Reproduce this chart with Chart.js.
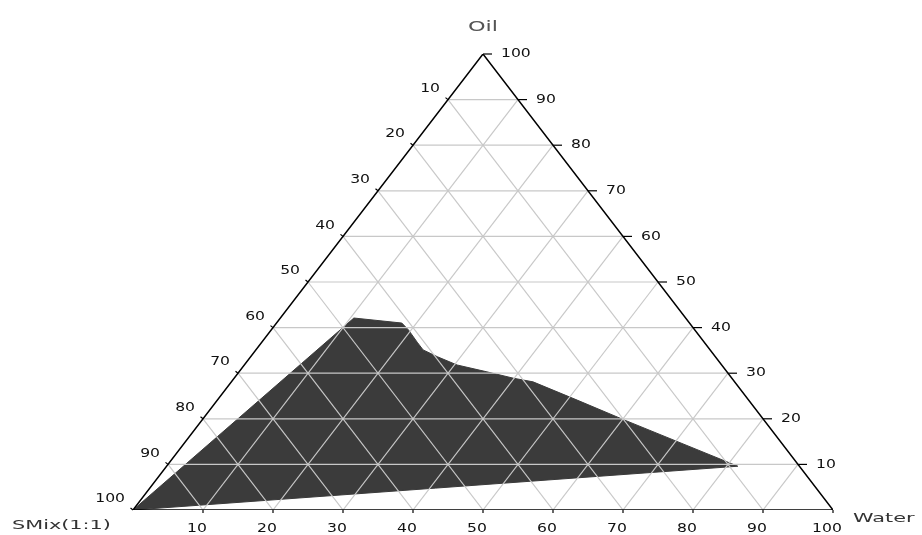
<!DOCTYPE html>
<html>
<head>
<meta charset="utf-8">
<script src="https://cdn.jsdelivr.net/npm/chart.js@4.4.0/dist/chart.umd.min.js"></script>
<style>
  body { margin: 0; background: #fff; }
</style>
</head>
<body>
<canvas id="ternary" width="922" height="535"></canvas>
<script>
// region of the phase diagram, water % and oil % (smix = 100 - water - oil)
const regionWater = [0, 10.5, 17.9, 19.6, 22.2, 23.9, 26.7, 30.4, 35.4, 39.9, 43.1, 51.4, 60.4, 81.6, 0]
const regionOil   = [0, 42.1, 41.0, 39.5, 36.8, 35.1, 33.6, 31.8, 30.3, 28.9, 28.1, 24.1, 19.7, 9.6, 0]

const gridSteps = [10, 20, 30, 40, 50, 60, 70, 80, 90]
const waterTicks = [10, 20, 30, 40, 50, 60, 70, 80, 90, 100]
const oilTicks = [10, 20, 30, 40, 50, 60, 70, 80, 90, 100]
const smixTicks = [10, 20, 30, 40, 50, 60, 70, 80, 90, 100]

// ternary -> cartesian (x along the base, y = oil)
function tern(w, o) {
  return {x: w + o / 2, y: o}
}

let region = []
for (let i = 0; i < regionWater.length; i++) {
  region.push(tern(regionWater[i], regionOil[i]))
}

let datasets = []
datasets.push({
  data: region,
  borderColor: '#3b3b3b',
  backgroundColor: '#3b3b3b',
  borderWidth: 1,
  fill: 'shape',
  order: 3
})

for (let g = 0; g < gridSteps.length; g++) {
  const v = gridSteps[g]
  // oil = const
  datasets.push({data: [tern(0, v), tern(100 - v, v)], borderColor: '#c8c8c8', borderWidth: 1.2, order: 2})
  // water = const
  datasets.push({data: [tern(v, 0), tern(v, 100 - v)], borderColor: '#c8c8c8', borderWidth: 1.2, order: 2})
  // smix = const
  datasets.push({data: [tern(100 - v, 0), tern(0, 100 - v)], borderColor: '#c8c8c8', borderWidth: 1.2, order: 2})
}

datasets.push({
  data: [tern(0, 0), tern(100, 0), tern(0, 100), tern(0, 0)],
  borderColor: '#000',
  borderWidth: 1.5,
  order: 1
})

function wideText(ctx, text, x, y, align, sx) {
  ctx.save()
  ctx.translate(x, y)
  ctx.scale(sx, 1)
  ctx.textAlign = align
  ctx.textBaseline = 'middle'
  ctx.fillText(text, 0, 0)
  ctx.restore()
}

const axesPlugin = {
  id: 'ternaryAxes',
  afterDraw(chart) {
    const ctx = chart.ctx
    const xs = chart.scales.x
    const ys = chart.scales.y
    const px = p => [xs.getPixelForValue(p.x), ys.getPixelForValue(p.y)]

    ctx.save()
    ctx.strokeStyle = '#000'
    ctx.lineWidth = 1.2
    ctx.fillStyle = '#111'
    ctx.font = '12px "DejaVu Sans"'

    // bottom: water
    waterTicks.forEach(t => {
      const [x, y] = px(tern(t, 0))
      ctx.beginPath(); ctx.moveTo(x, y); ctx.lineTo(x, y + 3); ctx.stroke()
      wideText(ctx, String(t), x - 6, y + 19, 'center', 1.3)
    })
    // right: oil
    oilTicks.forEach(t => {
      const [x, y] = px(tern(100 - t, t))
      ctx.beginPath(); ctx.moveTo(x, y); ctx.lineTo(x + 9, y); ctx.stroke()
      wideText(ctx, String(t), x + 18, y, 'left', 1.3)
    })
    // left: smix
    smixTicks.forEach(t => {
      const [x, y] = px(tern(0, 100 - t))
      ctx.beginPath(); ctx.moveTo(x, y); ctx.lineTo(x - 2.5, y - 2); ctx.stroke()
      wideText(ctx, String(t), x - 8, y - 11, 'right', 1.3)
    })

    ctx.fillStyle = '#555'
    ctx.font = '14px "DejaVu Sans"'
    const [ax, ay] = px(tern(0, 100))
    wideText(ctx, 'Oil', ax, ay - 27, 'center', 1.6)
    ctx.fillStyle = '#333'
    ctx.font = '13px "DejaVu Sans"'
    const [rx, ry] = px(tern(100, 0))
    wideText(ctx, 'Water', rx + 20, ry + 9, 'left', 1.6)
    const [lx, ly] = px(tern(0, 0))
    wideText(ctx, 'SMix(1:1)', 12, ly + 16, 'left', 1.6)
    ctx.restore()
  }
}

const ctx = document.getElementById('ternary').getContext('2d')
const chart = new Chart(ctx, {
  type: 'scatter',
  data: {datasets: datasets},
  options: {
    responsive: false,
    animation: false,
    devicePixelRatio: 1,
    showLine: true,
    layout: {padding: {left: 133, right: 89, top: 54, bottom: 25}},
    elements: {
      point: {radius: 0, hoverRadius: 0},
      line: {tension: 0, fill: false}
    },
    scales: {
      x: {type: 'linear', min: 0, max: 100, display: false},
      y: {type: 'linear', min: 0, max: 100, display: false}
    },
    plugins: {
      legend: {display: false},
      tooltip: {enabled: false}
    }
  },
  plugins: [axesPlugin]
})
</script>
</body>
</html>
